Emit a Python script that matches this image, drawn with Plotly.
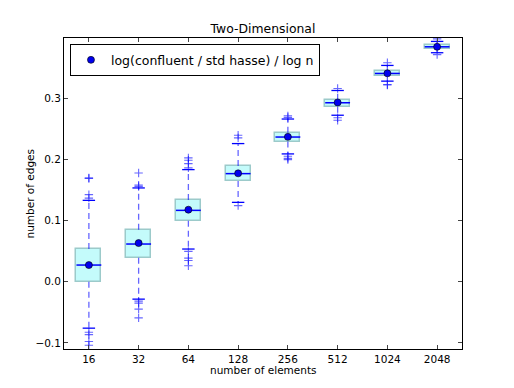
import plotly.graph_objects as go

sizes = ["16", "32", "64", "128", "256", "512", "1024", "2048"]
q1 = [0.000, 0.0393, 0.100, 0.165, 0.2295, 0.2864, 0.3372, 0.3815]
median = [0.0274, 0.0618, 0.1169, 0.1770, 0.2369, 0.2930, 0.3410, 0.3846]
q3 = [0.0536, 0.0852, 0.134, 0.1897, 0.2438, 0.2979, 0.3448, 0.3874]
whisk_lo = [-0.0759, -0.0284, 0.0536, 0.1300, 0.2093, 0.2726, 0.3284, 0.3749]
whisk_hi = [0.1333, 0.1536, 0.1836, 0.2262, 0.2664, 0.3131, 0.3541, 0.3934]
means = [0.0274, 0.0634, 0.1180, 0.1775, 0.2372, 0.2935, 0.3412, 0.3846]
outliers = [
    [0.169, 0.170, 0.1426, 0.137, -0.0825, -0.0864, -0.0978, -0.1038],
    [0.1781, 0.1582, 0.156, -0.0317, -0.035, -0.0448, -0.059],
    [0.2028, 0.1989, 0.1934, 0.1864, 0.0497, 0.0388, 0.0349, 0.0262],
    [0.2398, 0.2356, 0.1246],
    [0.2716, 0.269, 0.2054, 0.2, 0.202],
    [0.3164, 0.2684, 0.2644],
    [0.3585, 0.323, 0.322],
    [0.3975, 0.3718],
]

pos = list(range(1, len(sizes) + 1))
box_w = 0.5
cap_w = 0.25
blue = "#0000ff"
light_blue = "rgba(0,0,255,0.6)"


def segs(xs0, xs1, ys0, ys1):
    xx, yy = [], []
    for a, b, c, d in zip(xs0, xs1, ys0, ys1):
        xx += [a, b, None]
        yy += [c, d, None]
    return xx, yy


fig = go.Figure()

# boxes
fig.add_trace(go.Bar(x=pos, y=[b - a for a, b in zip(q1, q3)], base=q1, width=box_w,
                     marker=dict(color="#c4fbfb", line=dict(color="#9ccaca", width=1.5)),
                     showlegend=False, hoverinfo="skip"))

# whiskers (dashed)
wx, wy = segs(pos + pos, pos + pos, q3 + q1, whisk_hi + whisk_lo)
fig.add_trace(go.Scatter(x=wx, y=wy, mode="lines", line=dict(color=light_blue, width=1.3, dash="6px,4px"),
                         showlegend=False, hoverinfo="skip"))

# caps
lefts = [p - cap_w / 2 for p in pos]
rights = [p + cap_w / 2 for p in pos]
cx, cy = segs(lefts + lefts, rights + rights, whisk_hi + whisk_lo, whisk_hi + whisk_lo)
fig.add_trace(go.Scatter(x=cx, y=cy, mode="lines", line=dict(color=blue, width=1.3),
                         showlegend=False, hoverinfo="skip"))

# medians
mx, my = segs([p - box_w / 2 for p in pos], [p + box_w / 2 for p in pos], median, median)
fig.add_trace(go.Scatter(x=mx, y=my, mode="lines", line=dict(color=blue, width=1.5),
                         showlegend=False, hoverinfo="skip"))

# fliers
fx, fy = [], []
for p, vals in zip(pos, outliers):
    fx += [p] * len(vals)
    fy += vals
fig.add_trace(go.Scatter(x=fx, y=fy, mode="markers",
                         marker=dict(symbol="cross-thin", size=6, line=dict(color=light_blue, width=1.1)),
                         showlegend=False, hoverinfo="skip"))

# means
fig.add_trace(go.Scatter(x=pos, y=means, mode="markers", name="log(confluent / std hasse) / log n",
                         marker=dict(symbol="circle", size=7, color="#0000ee", line=dict(color="black", width=0.6))))

fig.update_layout(
    width=514, height=388,
    margin=dict(l=64, r=52, t=38, b=39, autoexpand=False),
    paper_bgcolor="white", plot_bgcolor="white",
    font=dict(family="DejaVu Sans", size=10.5, color="black"),
    title=dict(text="Two-Dimensional", x=0.5, xanchor="center", xref="paper",
               y=1 - 29 / 388, yanchor="middle", font=dict(size=12.4)),
    showlegend=True,
    legend=dict(x=0.015, y=0.98, xanchor="left", yanchor="top", bgcolor="white",
                bordercolor="black", borderwidth=1, font=dict(size=12.5),
                itemwidth=30, tracegroupgap=0),
    bargap=0,
    annotations=[
        dict(text="number of elements", xref="paper", yref="paper", x=0.5, y=-21 / 311,
             xanchor="center", yanchor="middle", showarrow=False, font=dict(size=10.5)),
        dict(text="number of edges", xref="paper", yref="paper", x=-35 / 398, y=0.5,
             xanchor="center", yanchor="middle", textangle=-90, showarrow=False,
             font=dict(size=10.5)),
    ],
)
fig.update_xaxes(range=[0.5, 8.5], tickvals=pos, ticktext=sizes, ticks="inside", ticklen=4,
                 showline=True, linecolor="black", linewidth=1, mirror="ticks", showgrid=False,
                 zeroline=False, automargin=False, tickfont=dict(size=10.5))
fig.update_yaxes(range=[-0.11, 0.399], tickvals=[-0.1, 0.0, 0.1, 0.2, 0.3],
                 ticktext=["\u22120.1", "0.0", "0.1", "0.2", "0.3"], ticks="inside", ticklen=4,
                 showline=True, linecolor="black", linewidth=1, mirror="ticks", showgrid=False,
                 zeroline=False, automargin=False, tickfont=dict(size=10.5))

# page has a default 8px body margin, drop it so the figure sits at 0,0
fig.write_html("out.html", config={"displayModeBar": False},
               post_script="document.body.style.margin='0';")
